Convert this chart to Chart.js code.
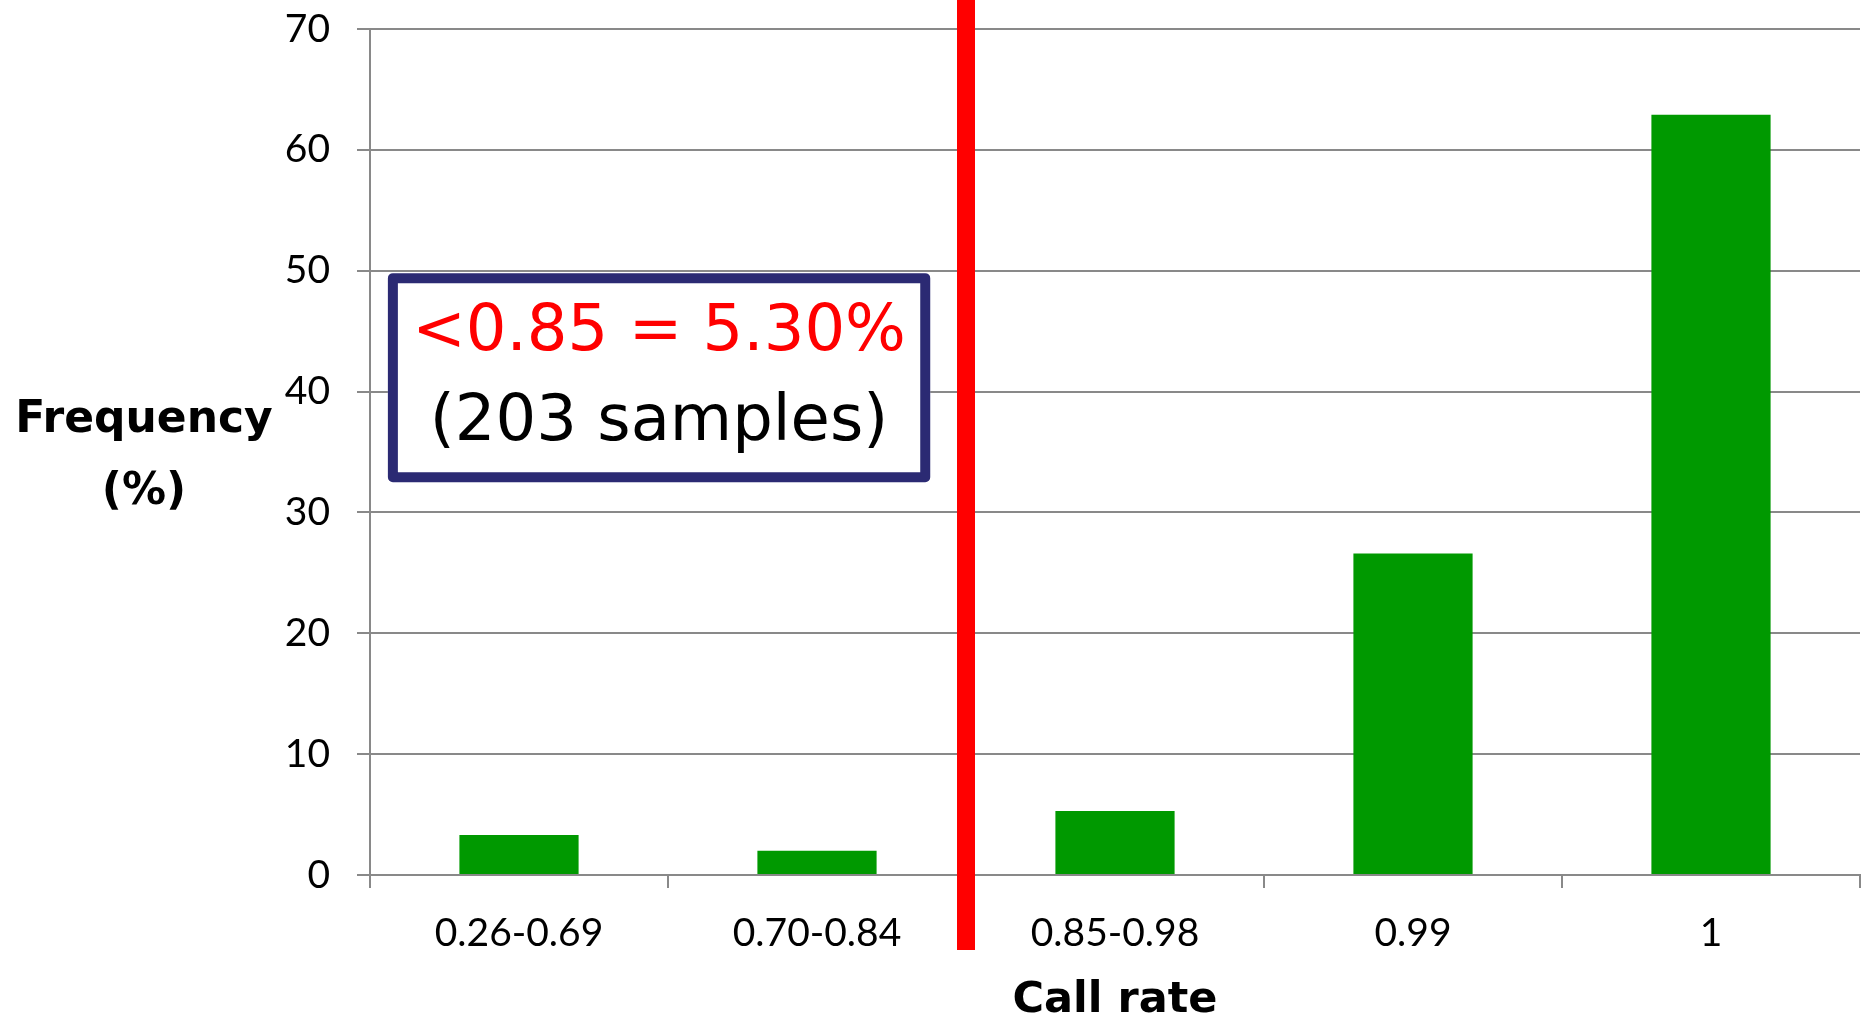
<!DOCTYPE html>
<html>
<head>
<meta charset="utf-8">
<script src="https://cdn.jsdelivr.net/npm/chart.js@4"></script>
<style>
  html, body { margin: 0; padding: 0; background: #fff; }
  #wrap { width: 1862px; height: 1020px; }
</style>
</head>
<body>
<div id="wrap"><canvas id="rateChart" width="1862" height="1020"></canvas></div>
<script>
// call rate bins and frequency (%)
const categories = ["0.26-0.69", "0.70-0.84", "0.85-0.98", "0.99", "1"];
const frequency = [3.3, 2.0, 5.3, 26.6, 62.9];
const yTicks = [0, 10, 20, 30, 40, 50, 60, 70];
const noteLines = ["<0.85 = 5.30%", "(203 samples)"];
const yTitle = ["Frequency", "(%)"];
const xTitle = "Call rate";

const gridGrey = "#898989";
const titleFont = "DejaVu Sans";

// red cut-off line, annotation box and axis titles
const extras = {
    id: "extras",
    afterDraw(chart) {
        const ctx = chart.ctx;
        const x = chart.scales.x;
        const y = chart.scales.y;
        const area = chart.chartArea;

        // cut-off between 0.70-0.84 and 0.85-0.98
        const cut = x.getPixelForValue(1.5);
        ctx.save();
        ctx.fillStyle = "#ff0000";
        ctx.fillRect(cut - 9, 0, 18, area.bottom + 75);

        // note box
        const bx1 = x.getPixelForValue(-0.44);
        const bx2 = x.getPixelForValue(1.38);
        const by1 = y.getPixelForValue(49.8);
        const by2 = y.getPixelForValue(32.5);
        ctx.fillStyle = "#fff";
        ctx.fillRect(bx1, by1, bx2 - bx1, by2 - by1);
        ctx.strokeStyle = "#2b2a73";
        ctx.lineWidth = 10;
        ctx.lineJoin = "round";
        ctx.strokeRect(bx1 + 5, by1 + 5, bx2 - bx1 - 10, by2 - by1 - 10);

        const cx = (bx1 + bx2) / 2;
        ctx.textAlign = "center";
        ctx.textBaseline = "middle";
        ctx.font = "64px '" + titleFont + "'";
        ctx.fillStyle = "#ff0000";
        ctx.fillText(noteLines[0], cx, by1 + 60);
        ctx.fillStyle = "#000";
        ctx.fillText(noteLines[1], cx, by1 + 150);

        // axis titles
        ctx.font = "bold 44px '" + titleFont + "'";
        ctx.fillText(yTitle[0], 144, 421);
        ctx.fillText(yTitle[1], 144, 493);
        ctx.font = "bold 43px '" + titleFont + "'";
        ctx.fillText(xTitle, (area.left + area.right) / 2, 1001);
        ctx.restore();
    }
};

const ctx = document.getElementById("rateChart").getContext("2d");
new Chart(ctx, {
    type: "bar",
    data: {
        labels: categories,
        datasets: [{
            data: frequency,
            backgroundColor: "#009900",
            borderWidth: 0,
            barPercentage: 0.4,
            categoryPercentage: 1.0
        }]
    },
    options: {
        responsive: false,
        animation: false,
        layout: { padding: { top: 29, right: 2, left: 0, bottom: 0 } },
        plugins: {
            legend: { display: false },
            tooltip: { enabled: false }
        },
        scales: {
            x: {
                grid: {
                    offset: true,
                    drawOnChartArea: false,
                    color: gridGrey,
                    lineWidth: 2,
                    tickLength: 13
                },
                border: { color: gridGrey, width: 2 },
                ticks: {
                    color: "#000",
                    padding: 22,
                    maxRotation: 0,
                    font: { family: "Lato", size: 39 }
                },
                afterFit(scale) {
                    scale.height = 145;
                    scale.paddingLeft = 0;
                    scale.paddingRight = 0;
                }
            },
            y: {
                min: 0,
                max: 70,
                afterBuildTicks(scale) { scale.ticks = yTicks.map(v => ({ value: v })); },
                grid: { color: gridGrey, lineWidth: 2, tickLength: 13 },
                border: { color: gridGrey, width: 2 },
                ticks: {
                    color: "#000",
                    padding: 27,
                    font: { family: "Lato", size: 39 }
                },
                afterFit(scale) {
                    scale.width = 370;
                    scale.paddingTop = 0;
                    scale.paddingBottom = 0;
                }
            }
        }
    },
    plugins: [extras]
});
</script>
</body>
</html>
